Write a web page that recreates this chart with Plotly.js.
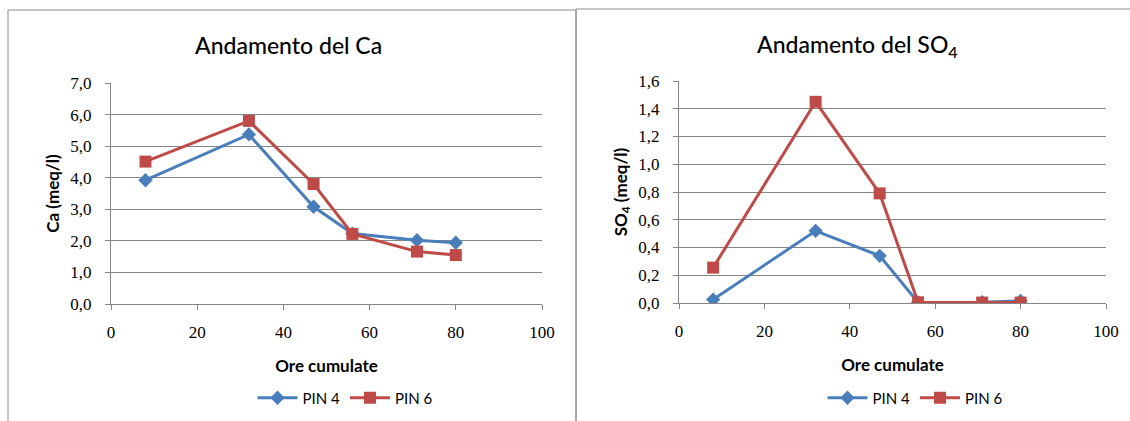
<!DOCTYPE html>
<html>
<head>
<meta charset="utf-8">
<script src="https://cdn.plot.ly/plotly-3.0.1.min.js"></script>
<style>html,body{margin:0;padding:0;background:#fff;}#chart{width:1130px;height:421px;}</style>
</head>
<body>
<div id="chart"></div>
<script>
var hours = [8, 32, 47, 56, 71, 80];
var caPin4 = [3.92, 5.37, 3.08, 2.23, 2.02, 1.94];
var caPin6 = [4.51, 5.80, 3.80, 2.22, 1.66, 1.55];
var so4Pin4 = [0.025, 0.52, 0.34, 0.004, 0.006, 0.015];
var so4Pin6 = [0.255, 1.45, 0.79, 0.005, 0.003, 0.003];
var seriesNames = ["PIN 4", "PIN 6"];
var xTicks = [0, 20, 40, 60, 80, 100];

var blue = "#4A7EBB", red = "#BE4B48";
var titleFont = "Lato, 'Open Sans', sans-serif";
var tickFont = "'Liberation Serif', 'DejaVu Serif', serif";

function tr(y, name, color, sym, size, xa, ya, leg) {
  return {x: hours, y: y, name: name, type: "scatter", mode: "lines+markers",
    line: {color: color, width: 3}, marker: {symbol: sym, size: size, color: color},
    xaxis: xa, yaxis: ya, legend: leg, showlegend: true};
}
var data = [
  tr(caPin4, seriesNames[0], blue, "diamond", 11, "x", "y", "legend"),
  tr(caPin6, seriesNames[1], red, "square", 12, "x", "y", "legend"),
  tr(so4Pin4, seriesNames[0], blue, "diamond", 11, "x2", "y2", "legend2"),
  tr(so4Pin6, seriesNames[1], red, "square", 12, "x2", "y2", "legend2")
];

function xax(dom, anchor) {
  return {domain: dom, anchor: anchor, range: [0, 100], tickvals: xTicks, ticks: "outside", ticklen: 5,
    tickcolor: "#868686", showgrid: false, zeroline: false, showline: true, linecolor: "#868686", linewidth: 1,
    ticklabelstandoff: 8,
    tickfont: {family: tickFont, size: 17, color: "#000"},
    title: {text: "Ore cumulate", font: {family: titleFont, size: 17, color: "#000", weight: "bold"}, standoff: 18}};
}
function yax(dom, anchor, rng, dt, ttl) {
  return {domain: dom, anchor: anchor, range: rng, dtick: dt, tick0: 0, tickformat: ".1f", ticks: "outside", ticklen: 5,
    tickcolor: "#868686", showgrid: true, gridcolor: "#868686", gridwidth: 1, zeroline: false, showline: true,
    ticklabelstandoff: 10,
    linecolor: "#868686", tickfont: {family: tickFont, size: 17, color: "#000"},
    title: {text: ttl, font: {family: titleFont, size: 17, color: "#000", weight: "bold"}, standoff: 6}};
}

var layout = {
  width: 1130, height: 421, margin: {l: 0, r: 0, t: 0, b: 0},
  paper_bgcolor: "#fff", plot_bgcolor: "#fff", separators: ",.",
  xaxis: xax([111/1130, 542/1130], "y"),
  yaxis: yax([(421-304)/421, (421-83)/421], "x", [0, 7], 1, "Ca (meq/l)"),
  xaxis2: xax([679/1130, 1106/1130], "y2"),
  yaxis2: yax([(421-303)/421, (421-81)/421], "x2", [0, 1.6], 0.2, "SO<sub>4</sub> (meq/l)"),
  legend: {orientation: "h", x: 345/1130, xanchor: "center", y: (421-398)/421, yanchor: "middle",
    font: {family: titleFont, size: 15, color: "#000"}, bgcolor: "rgba(0,0,0,0)", itemwidth: 40},
  legend2: {orientation: "h", x: 915/1130, xanchor: "center", y: (421-398)/421, yanchor: "middle",
    font: {family: titleFont, size: 15, color: "#000"}, bgcolor: "rgba(0,0,0,0)", itemwidth: 40},
  annotations: [
    {text: "Andamento del Ca", xref: "paper", yref: "paper", x: 288/1130, y: (421-45)/421, xanchor: "center", yanchor: "middle",
      showarrow: false, font: {family: titleFont, size: 23, color: "#000", weight: 500}},
    {text: "Andamento del SO<sub>4</sub>", xref: "paper", yref: "paper", x: 857/1130, y: (421-45)/421, xanchor: "center", yanchor: "middle",
      showarrow: false, font: {family: titleFont, size: 23, color: "#000", weight: 500}}
  ],
  shapes: [
    {type: "rect", xref: "paper", yref: "paper", x0: 8/1130, x1: 576/1130, y0: -0.1, y1: (421-10)/421, line: {color: "#8c8c8c", width: 1}},
    {type: "rect", xref: "paper", yref: "paper", x0: 576/1130, x1: 1.1, y0: -0.1, y1: (421-9)/421, line: {color: "#8c8c8c", width: 1}}
  ]
};
Plotly.newPlot("chart", data, layout, {staticPlot: true, displayModeBar: false});
</script>
</body>
</html>
